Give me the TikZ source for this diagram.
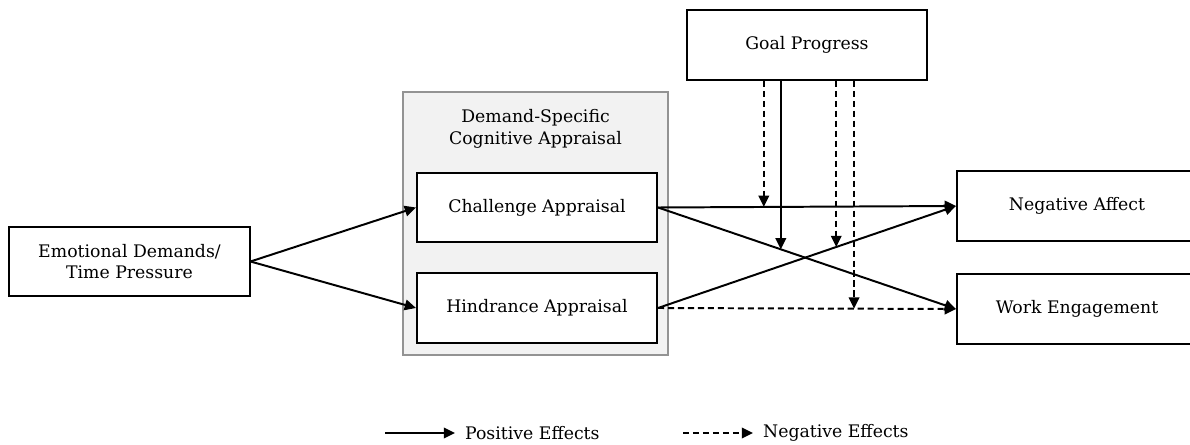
\documentclass[tikz,border=0pt]{standalone}
\usepackage{fontspec}
\setmainfont{DejaVu Serif}
\usetikzlibrary{arrows.meta}

\begin{document}
\begin{tikzpicture}[x=0.025cm,y=-0.025cm,
  >={Triangle[length=8pt,width=7.5pt]},
  every node/.style={font=\fontsize{12.3}{15.5}\selectfont},
  box/.style={draw,line width=1.4pt,fill=white,minimum width=6cm,minimum height=1.74cm,align=center},
  grp/.style={draw=gray!85,line width=1.4pt,fill=gray!10,minimum width=6.625cm,minimum height=6.575cm},
  posarr/.style={->,line width=1.4pt},
  negarr/.style={->,line width=1.4pt,dash pattern=on 4.3pt off 2.8pt},
  capt/.style={align=center},
  leg/.style={anchor=west,inner xsep=7pt}]

  \useasboundingbox (0,0) rectangle (1190,445);

  % appraisal group
  \node[grp] (dsca) at (535.5,223.5) {};
  \node[capt] (dscat) at (535.5,128.5) {Demand-Specific\\Cognitive Appraisal};

  \node[box] (emo) at (129.5,261.5) {Emotional Demands/\\Time Pressure};
  \node[box] (ch) at (537,207.5) {Challenge Appraisal};
  \node[box] (hi) at (537,308) {Hindrance Appraisal};
  \node[box] (gp) at (807,45) {Goal Progress};
  \node[box] (na) at (1077,206) {Negative Affect};
  \node[box] (we) at (1077,309) {Work Engagement};

  \draw[posarr] (emo.east) -- (ch.west);
  \draw[posarr] (emo.east) -- (hi.west);
  \draw[posarr] (ch.east) -- coordinate[pos=0.355] (m1) (na.west);
  \draw[posarr] (ch.east) -- coordinate[pos=0.412] (m2) (we.west);
  \draw[posarr] (hi.east) -- coordinate[pos=0.598] (m3) (na.west);
  \draw[negarr] (hi.east) -- coordinate[pos=0.658] (m4) (we.west);

  % moderation by goal progress
  \draw[negarr] (gp.south -| m1) -- (m1);
  \draw[posarr] (gp.south -| m2) -- (m2);
  \draw[negarr] (gp.south -| m3) -- (m3);
  \draw[negarr] (gp.south -| m4) -- (m4);

  % legend
  \coordinate (lps) at (385,433);
  \node[leg] (lpos) at (455,433) {Positive Effects};
  \draw[posarr] (lps) -- (lpos.west);
  \coordinate (lng) at (683,433);
  \node[leg] (lneg) at (753,433) {Negative Effects};
  \draw[negarr] (lng) -- (lneg.west);
\end{tikzpicture}
\end{document}
